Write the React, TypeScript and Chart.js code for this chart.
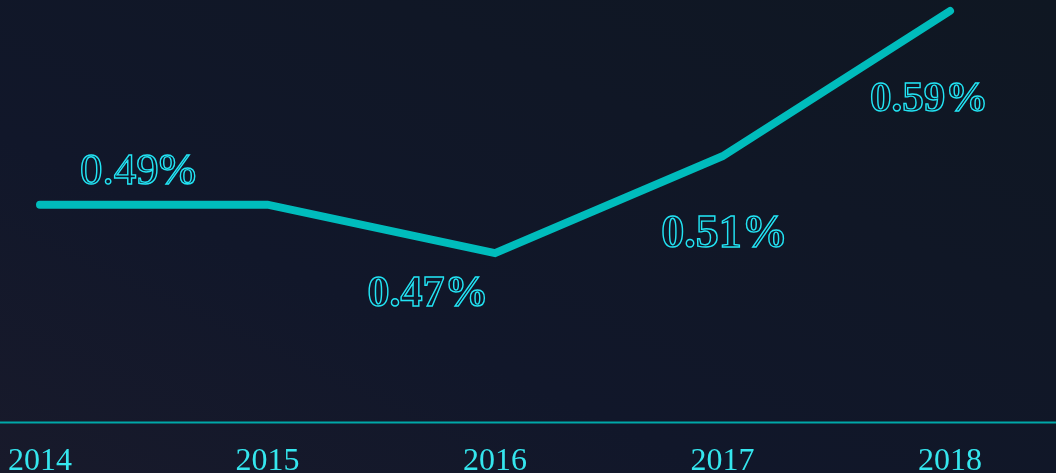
import React, { useEffect, useRef } from "react";
import { Chart, registerables } from "chart.js";

Chart.register(...registerables);

const years = ["2014", "2015", "2016", "2017", "2018"];
const rates = [0.49, 0.49, 0.47, 0.51, 0.57];
const rateLabels = ["0.49%", "", "0.47%", "0.51%", "0.59%"];

// label styling (offset from point, font size, weight)
const labelStyles = [
  { dx: 98, dy: -21, size: 45, weight: "normal" },
  { dx: 0, dy: 0, size: 44, weight: "bold" },
  { dx: -67, dy: 53, size: 44, weight: "bold" },
  { dx: 2, dy: 91, size: 46, weight: "bold" },
  { dx: -21, dy: 100, size: 43, weight: "bold" },
];

const axisLinePlugin = {
  id: "fullAxisLine",
  beforeDatasetsDraw(chart: any) {
    const { ctx, chartArea, width } = chart;
    ctx.save();
    ctx.strokeStyle = "#00a8a8";
    ctx.lineWidth = 2;
    ctx.beginPath();
    ctx.moveTo(0, chartArea.bottom);
    ctx.lineTo(width, chartArea.bottom);
    ctx.stroke();
    ctx.restore();
  },
};

const outlineLabelPlugin = {
  id: "outlineLabels",
  afterDatasetsDraw(chart: any) {
    const { ctx } = chart;
    const meta = chart.getDatasetMeta(0);
    ctx.save();
    ctx.strokeStyle = "#22e4f4";
    ctx.lineWidth = 1.4;
    ctx.textAlign = "center";
    ctx.textBaseline = "alphabetic";
    meta.data.forEach((pt: any, i: number) => {
      const text = rateLabels[i];
      if (!text) return;
      const s = labelStyles[i];
      ctx.font = `${s.weight} ${s.size}px "Liberation Serif", "Times New Roman", serif`;
      ctx.strokeText(text, pt.x + s.dx, pt.y + s.dy);
    });
    ctx.restore();
  },
};

export default function App() {
  const ref = useRef<HTMLCanvasElement | null>(null);
  useEffect(() => {
    if (!ref.current) return;
    const chart = new Chart(ref.current, {
      type: "line",
      data: {
        labels: years,
        datasets: [
          {
            data: rates,
            borderColor: "#00bcbc",
            borderWidth: 8,
            borderCapStyle: "round",
            borderJoinStyle: "miter",
            pointRadius: 0,
            pointHoverRadius: 0,
            tension: 0,
            fill: false,
            clip: 30,
          } as any,
        ],
      },
      options: {
        animation: false,
        responsive: false,
        maintainAspectRatio: false,
        layout: { padding: { left: 40, right: 106, top: 11, bottom: 1 } },
        plugins: {
          legend: { display: false },
          title: { display: false },
          tooltip: { enabled: false },
        },
        scales: {
          x: {
            offset: false,
            grid: { display: false, drawTicks: false },
            border: { display: false },
            afterFit: (scale: any) => {
              scale.paddingLeft = 0;
              scale.paddingRight = 0;
            },
            ticks: {
              color: "#35e6ee",
              padding: 20,
              maxRotation: 0,
              autoSkip: false,
              font: { family: '"Liberation Serif", "Times New Roman", serif', size: 32 },
            },
          },
          y: {
            display: false,
            min: 0.4,
            max: 0.57,
          },
        },
      },
      plugins: [axisLinePlugin, outlineLabelPlugin],
    });
    return () => chart.destroy();
  }, []);

  return (
    <div
      style={{
        position: "fixed",
        left: 0,
        top: 0,
        width: 1056,
        height: 473,
        overflow: "hidden",
        background:
          "linear-gradient(25deg, #181a2b 0%, #11172a 35%, #0f1722 100%)",
      }}
    >
      <canvas ref={ref} width={1056} height={502} style={{ display: "block" }} />
    </div>
  );
}
